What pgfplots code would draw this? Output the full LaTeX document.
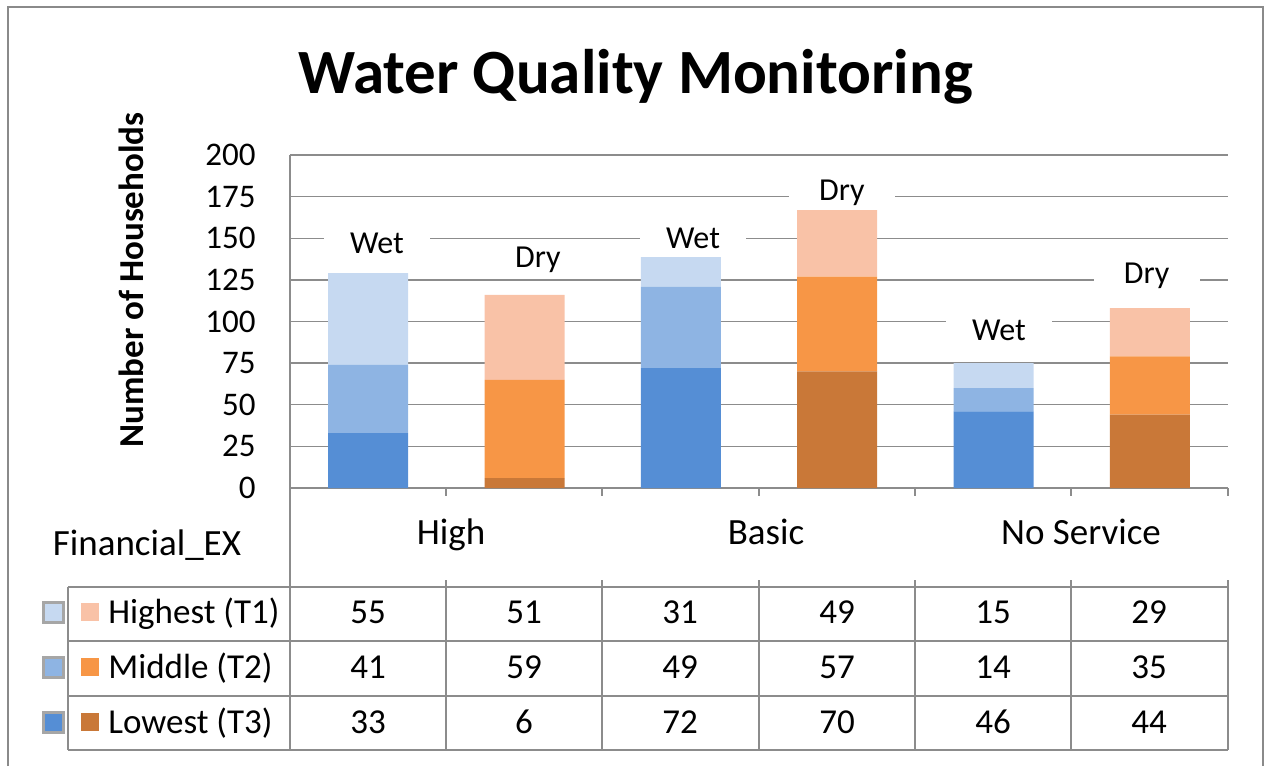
\documentclass[border=0pt]{standalone}
\usepackage{pgfplots}
\pgfplotsset{compat=1.18}
\usepackage{fontspec}
\setmainfont{Carlito}
\definecolor{wlow}{HTML}{558ED5}
\definecolor{wmid}{HTML}{8EB4E3}
\definecolor{whigh}{HTML}{C6D9F1}
\definecolor{dlow}{HTML}{C97838}
\definecolor{dmid}{HTML}{F79646}
\definecolor{dhigh}{HTML}{F9C2A7}
\definecolor{gridc}{HTML}{8C8C8C}
\definecolor{framec}{HTML}{8A8A8A}
\newcommand{\fs}[1]{\fontsize{#1}{#1}\selectfont}
\begin{document}
\begin{tikzpicture}
\begin{scope}[x=0.5pt,y=-0.5pt]
\useasboundingbox (0,0) rectangle (1265,765);
\end{scope}
\begin{axis}[
  at={(145pt,-244pt)}, anchor=south west,
  scale only axis, width=469pt, height=166.5pt,
  xmin=-0.5, xmax=5.5, ymin=0, ymax=200,
  ybar stacked, bar width=40pt,
  ytick={0,25,...,200}, xtick=\empty,
  ymajorgrids, grid style={gridc, line width=0.7pt},
  axis x line*=bottom, axis y line*=left,
  axis line style={gridc, line width=0.7pt, -},
  y tick style={draw=none},
  yticklabel style={font=\fs{16.5}, anchor=east, inner sep=0pt, xshift=-17pt},
  /pgf/number format/assume math mode=true,
  clip=false,
]
\addplot[fill=wlow, draw=none] coordinates {(0,33)(1,0)(2,72)(3,0)(4,46)(5,0)};
\addplot[fill=dlow, draw=none] coordinates {(0,0)(1,6)(2,0)(3,70)(4,0)(5,44)};
\addplot[fill=wmid, draw=none] coordinates {(0,41)(1,0)(2,49)(3,0)(4,14)(5,0)};
\addplot[fill=dmid, draw=none] coordinates {(0,0)(1,59)(2,0)(3,57)(4,0)(5,35)};
\addplot[fill=whigh, draw=none] coordinates {(0,55)(1,0)(2,31)(3,0)(4,15)(5,0)};
\addplot[fill=dhigh, draw=none] coordinates {(0,0)(1,51)(2,0)(3,49)(4,0)(5,29)};
\coordinate (L1) at (axis cs:0.056,147);
\coordinate (L2) at (axis cs:1.086,137);
\coordinate (L3) at (axis cs:2.078,149.8);
\coordinate (L4) at (axis cs:3.03,177.5);
\coordinate (L5) at (axis cs:4.035,94.9);
\coordinate (L6) at (axis cs:4.98,127.5);
\end{axis}
\tikzset{lbl/.style={fill=white, minimum width=53pt, minimum height=18pt, inner sep=0pt, font=\fs{16}}}
\node[lbl] at (L1) {Wet};
\node[lbl] at (L2) {Dry};
\node[lbl] at (L3) {Wet};
\node[lbl] at (L4) {Dry};
\node[lbl] at (L5) {Wet};
\node[lbl] at (L6) {Dry};
\begin{scope}[x=0.5pt,y=-0.5pt]
% chart frame
\draw[framec, line width=1.2pt] (8,766) -- (8,7) -- (1263,7) -- (1263,766);
% title
\node[anchor=base, font=\fs{31.5}\bfseries] at (635.5,93) {Water Quality Monitoring};
% y title
\node[rotate=90, font=\fs{17.5}\bfseries] at (131,280) {Number of Households};
% category labels
\node[anchor=base, font=\fs{18.5}] at (451,544) {High};
\node[anchor=base, font=\fs{18.5}] at (766,544) {Basic};
\node[anchor=base, font=\fs{18.5}] at (1081,544) {No Service};
\node[anchor=base, font=\fs{18.5}] at (147,555) {Financial\_EX};
% table lines
\begin{scope}[gridc, line width=0.7pt]
\draw (290,488) -- (290,750);
\foreach \x in {446,602,759,915,1071,1228} {
  \draw (\x,488) -- (\x,496);
  \draw (\x,580) -- (\x,750);
}
\foreach \y in {587,641,696,750} { \draw (68,\y) -- (1228,\y); }
\draw (68,587) -- (68,750);
\end{scope}
% legend keys
\foreach \c/\d/\y in {whigh/dhigh/612, wmid/dmid/667, wlow/dlow/722} {
  \draw[gray!70, line width=1.5pt, fill=\c] (43,\y-10) rectangle (63,\y+10);
  \fill[\d] (81,\y-9) rectangle (99,\y+9);
}
\node[anchor=base west, inner sep=0pt, font=\fs{17.5}] at (108,623) {Highest (T1)};
\node[anchor=base west, inner sep=0pt, font=\fs{17.5}] at (108,678) {Middle (T2)};
\node[anchor=base west, inner sep=0pt, font=\fs{17.5}] at (108,733) {Lowest (T3)};
% table values
\foreach \x/\a/\b/\c in {368/55/41/33, 524/51/59/6, 680/31/49/72, 837/49/57/70, 993/15/14/46, 1149/29/35/44} {
  \node[anchor=base, inner sep=0pt, font=\fs{17.5}] at (\x,623) {\a};
  \node[anchor=base, inner sep=0pt, font=\fs{17.5}] at (\x,678) {\b};
  \node[anchor=base, inner sep=0pt, font=\fs{17.5}] at (\x,733) {\c};
}
\end{scope}
\end{tikzpicture}
\end{document}
